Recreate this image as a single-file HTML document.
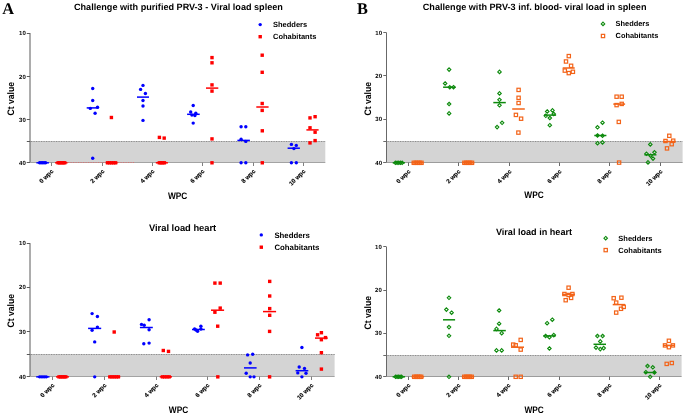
<!DOCTYPE html>
<html><head><meta charset="utf-8"><style>
html,body{margin:0;padding:0;background:#fff;width:685px;height:417px;overflow:hidden}
svg{display:block;will-change:transform} text{text-rendering:geometricPrecision}
</style></head><body>
<svg width="685" height="417" viewBox="0 0 685 417">
<rect x="30.0" y="141" width="295.3" height="21.5" fill="#d4d4d4"/>
<line x1="30.0" y1="141.5" x2="325.3" y2="141.5" stroke="#c4c4c4" stroke-width="1"/>
<line x1="31.0" y1="141.5" x2="325.3" y2="141.5" stroke="#8e8e8e" stroke-width="1" stroke-dasharray="1.2 1.3"/>
<line x1="26.8" y1="141.5" x2="30.0" y2="141.5" stroke="#5a5a5a" stroke-width="1"/>
<line x1="30.0" y1="33" x2="30.0" y2="162.5" stroke="#5a5a5a" stroke-width="1"/>
<line x1="26.8" y1="162.5" x2="325.3" y2="162.5" stroke="#a3a3a3" stroke-width="1"/>
<line x1="68" y1="162.5" x2="105.5" y2="162.5" stroke="#f06060" stroke-width="1" stroke-dasharray="1.2 1.3" opacity="0.7"/>
<line x1="118" y1="162.5" x2="134" y2="162.5" stroke="#f06060" stroke-width="1" stroke-dasharray="1.2 1.3" opacity="0.7"/>
<line x1="26.8" y1="33.5" x2="30.0" y2="33.5" stroke="#5a5a5a" stroke-width="1"/>
<text x="25.8" y="35.1" font-family='"Liberation Sans", sans-serif' font-size="6" font-weight="bold" text-anchor="end" fill="#000" transform="rotate(0.01 25.8 35.1)">10</text>
<line x1="26.8" y1="76.5" x2="30.0" y2="76.5" stroke="#5a5a5a" stroke-width="1"/>
<text x="25.8" y="78.6" font-family='"Liberation Sans", sans-serif' font-size="6" font-weight="bold" text-anchor="end" fill="#000" transform="rotate(0.01 25.8 78.6)">20</text>
<line x1="26.8" y1="119.5" x2="30.0" y2="119.5" stroke="#5a5a5a" stroke-width="1"/>
<text x="25.8" y="121.6" font-family='"Liberation Sans", sans-serif' font-size="6" font-weight="bold" text-anchor="end" fill="#000" transform="rotate(0.01 25.8 121.6)">30</text>
<line x1="26.8" y1="162.5" x2="30.0" y2="162.5" stroke="#5a5a5a" stroke-width="1"/>
<text x="25.8" y="164.6" font-family='"Liberation Sans", sans-serif' font-size="6" font-weight="bold" text-anchor="end" fill="#000" transform="rotate(0.01 25.8 164.6)">40</text>
<line x1="51.5" y1="162.5" x2="51.5" y2="166.0" stroke="#808080" stroke-width="1"/>
<text x="53.8" y="171.6" font-family='"Liberation Sans", sans-serif' font-size="6.1" font-weight="bold" text-anchor="end" fill="#000" stroke="#000" stroke-width="0.15" transform="rotate(-45 53.8 171.6)">0 wpc</text>
<line x1="102.5" y1="162.5" x2="102.5" y2="166.0" stroke="#808080" stroke-width="1"/>
<text x="104.8" y="171.6" font-family='"Liberation Sans", sans-serif' font-size="6.1" font-weight="bold" text-anchor="end" fill="#000" stroke="#000" stroke-width="0.15" transform="rotate(-45 104.8 171.6)">2 wpc</text>
<line x1="152.5" y1="162.5" x2="152.5" y2="166.0" stroke="#808080" stroke-width="1"/>
<text x="154.8" y="171.6" font-family='"Liberation Sans", sans-serif' font-size="6.1" font-weight="bold" text-anchor="end" fill="#000" stroke="#000" stroke-width="0.15" transform="rotate(-45 154.8 171.6)">4 wpc</text>
<line x1="202.5" y1="162.5" x2="202.5" y2="166.0" stroke="#808080" stroke-width="1"/>
<text x="204.8" y="171.6" font-family='"Liberation Sans", sans-serif' font-size="6.1" font-weight="bold" text-anchor="end" fill="#000" stroke="#000" stroke-width="0.15" transform="rotate(-45 204.8 171.6)">6 wpc</text>
<line x1="253.5" y1="162.5" x2="253.5" y2="166.0" stroke="#808080" stroke-width="1"/>
<text x="255.8" y="171.6" font-family='"Liberation Sans", sans-serif' font-size="6.1" font-weight="bold" text-anchor="end" fill="#000" stroke="#000" stroke-width="0.15" transform="rotate(-45 255.8 171.6)">8 wpc</text>
<line x1="303.5" y1="162.5" x2="303.5" y2="166.0" stroke="#808080" stroke-width="1"/>
<text x="305.8" y="171.6" font-family='"Liberation Sans", sans-serif' font-size="6.1" font-weight="bold" text-anchor="end" fill="#000" stroke="#000" stroke-width="0.15" transform="rotate(-45 305.8 171.6)">10 wpc</text>
<text x="0" y="0" font-family='"Liberation Sans", sans-serif' font-size="8.6" font-weight="bold" text-anchor="middle" fill="#000" transform="translate(14.399999999999999 98.8) rotate(-90) scale(1 1.1)">Ct value</text>
<text x="0" y="0" font-family='"Liberation Sans", sans-serif' font-size="8.4" font-weight="bold" text-anchor="start" fill="#000" transform="translate(168.0 198.8) scale(0.99 1.12)">WPC</text>
<text x="74" y="10.2" font-family='"Liberation Sans", sans-serif' font-size="9.1" font-weight="bold" text-anchor="start" fill="#000" >Challenge with purified PRV-3 - Viral load spleen</text>
<circle cx="260.20" cy="24.60" r="1.7" fill="#0000ff"/>
<rect x="258.50" y="35.00" width="3.4" height="3.4" fill="#ff0000"/>
<text x="273" y="27.2" font-family='"Liberation Sans", sans-serif' font-size="7.5" font-weight="bold" text-anchor="start" fill="#000" >Shedders</text>
<text x="273" y="39.3" font-family='"Liberation Sans", sans-serif' font-size="7.5" font-weight="bold" text-anchor="start" fill="#000" >Cohabitants</text>
<line x1="36.4" y1="162.8" x2="48.9" y2="162.8" stroke="#0000ff" stroke-width="1.5"/>
<circle cx="39.60" cy="162.80" r="1.7" fill="#0000ff"/>
<circle cx="41.10" cy="162.80" r="1.7" fill="#0000ff"/>
<circle cx="42.60" cy="162.80" r="1.7" fill="#0000ff"/>
<circle cx="44.10" cy="162.80" r="1.7" fill="#0000ff"/>
<circle cx="45.60" cy="162.80" r="1.7" fill="#0000ff"/>
<line x1="55.1" y1="162.8" x2="67.5" y2="162.8" stroke="#ff0000" stroke-width="1.5"/>
<rect x="56.40" y="161.10" width="3.4" height="3.4" fill="#ff0000"/>
<rect x="58.05" y="161.10" width="3.4" height="3.4" fill="#ff0000"/>
<rect x="59.70" y="161.10" width="3.4" height="3.4" fill="#ff0000"/>
<rect x="61.35" y="161.10" width="3.4" height="3.4" fill="#ff0000"/>
<rect x="63.00" y="161.10" width="3.4" height="3.4" fill="#ff0000"/>
<line x1="86.7" y1="107.9" x2="98.7" y2="107.9" stroke="#0000ff" stroke-width="1.5"/>
<circle cx="92.70" cy="88.50" r="1.7" fill="#0000ff"/>
<circle cx="92.70" cy="100.50" r="1.7" fill="#0000ff"/>
<circle cx="90.30" cy="108.40" r="1.7" fill="#0000ff"/>
<circle cx="97.50" cy="107.20" r="1.7" fill="#0000ff"/>
<circle cx="95.10" cy="113.20" r="1.7" fill="#0000ff"/>
<circle cx="92.70" cy="158.30" r="1.7" fill="#0000ff"/>
<line x1="105.7" y1="162.8" x2="117.5" y2="162.8" stroke="#ff0000" stroke-width="1.5"/>
<rect x="109.70" y="115.80" width="3.4" height="3.4" fill="#ff0000"/>
<rect x="105.80" y="161.10" width="3.4" height="3.4" fill="#ff0000"/>
<rect x="107.83" y="161.10" width="3.4" height="3.4" fill="#ff0000"/>
<rect x="109.85" y="161.10" width="3.4" height="3.4" fill="#ff0000"/>
<rect x="111.87" y="161.10" width="3.4" height="3.4" fill="#ff0000"/>
<rect x="113.90" y="161.10" width="3.4" height="3.4" fill="#ff0000"/>
<line x1="137" y1="97.1" x2="149" y2="97.1" stroke="#0000ff" stroke-width="1.5"/>
<circle cx="143.00" cy="85.40" r="1.7" fill="#0000ff"/>
<circle cx="140.60" cy="89.40" r="1.7" fill="#0000ff"/>
<circle cx="145.40" cy="93.50" r="1.7" fill="#0000ff"/>
<circle cx="143.00" cy="100.50" r="1.7" fill="#0000ff"/>
<circle cx="143.00" cy="106.00" r="1.7" fill="#0000ff"/>
<circle cx="143.00" cy="120.40" r="1.7" fill="#0000ff"/>
<line x1="155.8" y1="162.8" x2="167.9" y2="162.8" stroke="#ff0000" stroke-width="1.5"/>
<rect x="157.70" y="135.70" width="3.4" height="3.4" fill="#ff0000"/>
<rect x="162.50" y="136.40" width="3.4" height="3.4" fill="#ff0000"/>
<rect x="157.60" y="161.10" width="3.4" height="3.4" fill="#ff0000"/>
<rect x="159.30" y="161.10" width="3.4" height="3.4" fill="#ff0000"/>
<rect x="161.00" y="161.10" width="3.4" height="3.4" fill="#ff0000"/>
<rect x="162.70" y="161.10" width="3.4" height="3.4" fill="#ff0000"/>
<line x1="187.1" y1="114.3" x2="199.7" y2="114.3" stroke="#0000ff" stroke-width="1.5"/>
<circle cx="193.20" cy="105.50" r="1.7" fill="#0000ff"/>
<circle cx="190.70" cy="112.00" r="1.7" fill="#0000ff"/>
<circle cx="191.90" cy="115.10" r="1.7" fill="#0000ff"/>
<circle cx="194.90" cy="115.50" r="1.7" fill="#0000ff"/>
<circle cx="195.80" cy="113.30" r="1.7" fill="#0000ff"/>
<circle cx="193.20" cy="123.10" r="1.7" fill="#0000ff"/>
<line x1="206" y1="88.1" x2="218.3" y2="88.1" stroke="#ff0000" stroke-width="1.5"/>
<rect x="210.30" y="55.90" width="3.4" height="3.4" fill="#ff0000"/>
<rect x="210.30" y="61.10" width="3.4" height="3.4" fill="#ff0000"/>
<rect x="210.30" y="83.20" width="3.4" height="3.4" fill="#ff0000"/>
<rect x="210.30" y="89.40" width="3.4" height="3.4" fill="#ff0000"/>
<rect x="210.30" y="137.20" width="3.4" height="3.4" fill="#ff0000"/>
<rect x="210.30" y="161.10" width="3.4" height="3.4" fill="#ff0000"/>
<line x1="237.4" y1="140.4" x2="249.9" y2="140.4" stroke="#0000ff" stroke-width="1.5"/>
<circle cx="241.10" cy="126.70" r="1.7" fill="#0000ff"/>
<circle cx="245.80" cy="126.70" r="1.7" fill="#0000ff"/>
<circle cx="241.10" cy="139.20" r="1.7" fill="#0000ff"/>
<circle cx="245.80" cy="141.40" r="1.7" fill="#0000ff"/>
<circle cx="241.10" cy="162.80" r="1.7" fill="#0000ff"/>
<circle cx="245.80" cy="162.80" r="1.7" fill="#0000ff"/>
<line x1="256.3" y1="107" x2="268.6" y2="107" stroke="#ff0000" stroke-width="1.5"/>
<rect x="260.50" y="53.50" width="3.4" height="3.4" fill="#ff0000"/>
<rect x="260.50" y="70.60" width="3.4" height="3.4" fill="#ff0000"/>
<rect x="260.50" y="101.80" width="3.4" height="3.4" fill="#ff0000"/>
<rect x="260.50" y="108.70" width="3.4" height="3.4" fill="#ff0000"/>
<rect x="260.60" y="129.10" width="3.4" height="3.4" fill="#ff0000"/>
<rect x="260.60" y="161.10" width="3.4" height="3.4" fill="#ff0000"/>
<line x1="287.6" y1="148.2" x2="299.9" y2="148.2" stroke="#0000ff" stroke-width="1.5"/>
<circle cx="291.40" cy="144.40" r="1.7" fill="#0000ff"/>
<circle cx="296.30" cy="145.40" r="1.7" fill="#0000ff"/>
<circle cx="293.90" cy="148.60" r="1.7" fill="#0000ff"/>
<circle cx="291.40" cy="162.80" r="1.7" fill="#0000ff"/>
<circle cx="296.30" cy="162.80" r="1.7" fill="#0000ff"/>
<line x1="306.4" y1="129.9" x2="318.6" y2="129.9" stroke="#ff0000" stroke-width="1.5"/>
<rect x="308.30" y="116.20" width="3.4" height="3.4" fill="#ff0000"/>
<rect x="313.40" y="115.00" width="3.4" height="3.4" fill="#ff0000"/>
<rect x="308.30" y="126.10" width="3.4" height="3.4" fill="#ff0000"/>
<rect x="313.40" y="130.50" width="3.4" height="3.4" fill="#ff0000"/>
<rect x="313.40" y="138.90" width="3.4" height="3.4" fill="#ff0000"/>
<rect x="308.30" y="141.20" width="3.4" height="3.4" fill="#ff0000"/>
<rect x="386.5" y="141" width="296.1" height="21.5" fill="#d4d4d4"/>
<line x1="386.5" y1="141.5" x2="682.6" y2="141.5" stroke="#c4c4c4" stroke-width="1"/>
<line x1="387.5" y1="141.5" x2="682.6" y2="141.5" stroke="#8e8e8e" stroke-width="1" stroke-dasharray="1.2 1.3"/>
<line x1="383.3" y1="141.5" x2="386.5" y2="141.5" stroke="#686868" stroke-width="1"/>
<line x1="386.5" y1="32.6" x2="386.5" y2="162.5" stroke="#686868" stroke-width="1"/>
<line x1="383.3" y1="162.5" x2="682.6" y2="162.5" stroke="#9c9c9c" stroke-width="1"/>
<line x1="383.3" y1="32.5" x2="386.5" y2="32.5" stroke="#686868" stroke-width="1"/>
<text x="382.0" y="34.7" font-family='"Liberation Sans", sans-serif' font-size="6" font-weight="bold" text-anchor="end" fill="#000" transform="rotate(0.01 382.0 34.7)">10</text>
<line x1="383.3" y1="75.5" x2="386.5" y2="75.5" stroke="#686868" stroke-width="1"/>
<text x="382.0" y="78.0" font-family='"Liberation Sans", sans-serif' font-size="6" font-weight="bold" text-anchor="end" fill="#000" transform="rotate(0.01 382.0 78.0)">20</text>
<line x1="383.3" y1="119.5" x2="386.5" y2="119.5" stroke="#686868" stroke-width="1"/>
<text x="382.0" y="121.3" font-family='"Liberation Sans", sans-serif' font-size="6" font-weight="bold" text-anchor="end" fill="#000" transform="rotate(0.01 382.0 121.3)">30</text>
<line x1="383.3" y1="162.5" x2="386.5" y2="162.5" stroke="#686868" stroke-width="1"/>
<text x="382.0" y="164.9" font-family='"Liberation Sans", sans-serif' font-size="6" font-weight="bold" text-anchor="end" fill="#000" transform="rotate(0.01 382.0 164.9)">40</text>
<line x1="408.5" y1="162.5" x2="408.5" y2="166.0" stroke="#6a6a6a" stroke-width="1"/>
<text x="410.8" y="171.9" font-family='"Liberation Sans", sans-serif' font-size="6.1" font-weight="bold" text-anchor="end" fill="#000" stroke="#000" stroke-width="0.15" transform="rotate(-45 410.8 171.9)">0 wpc</text>
<line x1="458.5" y1="162.5" x2="458.5" y2="166.0" stroke="#6a6a6a" stroke-width="1"/>
<text x="460.8" y="171.9" font-family='"Liberation Sans", sans-serif' font-size="6.1" font-weight="bold" text-anchor="end" fill="#000" stroke="#000" stroke-width="0.15" transform="rotate(-45 460.8 171.9)">2 wpc</text>
<line x1="509.5" y1="162.5" x2="509.5" y2="166.0" stroke="#6a6a6a" stroke-width="1"/>
<text x="511.8" y="171.9" font-family='"Liberation Sans", sans-serif' font-size="6.1" font-weight="bold" text-anchor="end" fill="#000" stroke="#000" stroke-width="0.15" transform="rotate(-45 511.8 171.9)">4 wpc</text>
<line x1="559.5" y1="162.5" x2="559.5" y2="166.0" stroke="#6a6a6a" stroke-width="1"/>
<text x="561.8" y="171.9" font-family='"Liberation Sans", sans-serif' font-size="6.1" font-weight="bold" text-anchor="end" fill="#000" stroke="#000" stroke-width="0.15" transform="rotate(-45 561.8 171.9)">6 wpc</text>
<line x1="609.5" y1="162.5" x2="609.5" y2="166.0" stroke="#6a6a6a" stroke-width="1"/>
<text x="611.8" y="171.9" font-family='"Liberation Sans", sans-serif' font-size="6.1" font-weight="bold" text-anchor="end" fill="#000" stroke="#000" stroke-width="0.15" transform="rotate(-45 611.8 171.9)">8 wpc</text>
<line x1="660.5" y1="162.5" x2="660.5" y2="166.0" stroke="#6a6a6a" stroke-width="1"/>
<text x="662.8" y="171.9" font-family='"Liberation Sans", sans-serif' font-size="6.1" font-weight="bold" text-anchor="end" fill="#000" stroke="#000" stroke-width="0.15" transform="rotate(-45 662.8 171.9)">10 wpc</text>
<text x="0" y="0" font-family='"Liberation Sans", sans-serif' font-size="8.6" font-weight="bold" text-anchor="middle" fill="#000" transform="translate(370.9 98.8) rotate(-90) scale(1 1.1)">Ct value</text>
<text x="0" y="0" font-family='"Liberation Sans", sans-serif' font-size="8.4" font-weight="bold" text-anchor="start" fill="#000" transform="translate(524.35 198.4) scale(0.99 1.12)">WPC</text>
<text x="422.8" y="9.6" font-family='"Liberation Sans", sans-serif' font-size="9.1" font-weight="bold" text-anchor="start" fill="#000" >Challenge with PRV-3 inf. blood- viral load in spleen</text>
<path d="M603.00 22.15L604.75 23.90L603.00 25.65L601.25 23.90Z" fill="none" stroke="#0d8a0d" stroke-width="1.1"/>
<rect x="601.35" y="34.35" width="3.3" height="3.3" fill="none" stroke="#f36318" stroke-width="1.2"/>
<text x="615.6" y="26.1" font-family='"Liberation Sans", sans-serif' font-size="7.4" font-weight="bold" text-anchor="start" fill="#000" >Shedders</text>
<text x="615.6" y="37.8" font-family='"Liberation Sans", sans-serif' font-size="7.4" font-weight="bold" text-anchor="start" fill="#000" >Cohabitants</text>
<line x1="392.7" y1="162.8" x2="404.9" y2="162.8" stroke="#0d8a0d" stroke-width="1.5"/>
<path d="M395.40 161.05L397.15 162.80L395.40 164.55L393.65 162.80Z" fill="none" stroke="#0d8a0d" stroke-width="1.1"/>
<path d="M397.10 161.05L398.85 162.80L397.10 164.55L395.35 162.80Z" fill="none" stroke="#0d8a0d" stroke-width="1.1"/>
<path d="M398.80 161.05L400.55 162.80L398.80 164.55L397.05 162.80Z" fill="none" stroke="#0d8a0d" stroke-width="1.1"/>
<path d="M400.50 161.05L402.25 162.80L400.50 164.55L398.75 162.80Z" fill="none" stroke="#0d8a0d" stroke-width="1.1"/>
<path d="M402.20 161.05L403.95 162.80L402.20 164.55L400.45 162.80Z" fill="none" stroke="#0d8a0d" stroke-width="1.1"/>
<line x1="411.7" y1="162.8" x2="423.6" y2="162.8" stroke="#f36318" stroke-width="1.5"/>
<rect x="412.15" y="161.15" width="3.3" height="3.3" fill="none" stroke="#f36318" stroke-width="1.2"/>
<rect x="414.08" y="161.15" width="3.3" height="3.3" fill="none" stroke="#f36318" stroke-width="1.2"/>
<rect x="416.00" y="161.15" width="3.3" height="3.3" fill="none" stroke="#f36318" stroke-width="1.2"/>
<rect x="417.93" y="161.15" width="3.3" height="3.3" fill="none" stroke="#f36318" stroke-width="1.2"/>
<rect x="419.85" y="161.15" width="3.3" height="3.3" fill="none" stroke="#f36318" stroke-width="1.2"/>
<line x1="443.1" y1="87.2" x2="455.5" y2="87.2" stroke="#0d8a0d" stroke-width="1.5"/>
<path d="M449.10 67.85L450.85 69.60L449.10 71.35L447.35 69.60Z" fill="none" stroke="#0d8a0d" stroke-width="1.1"/>
<path d="M445.10 81.75L446.85 83.50L445.10 85.25L443.35 83.50Z" fill="none" stroke="#0d8a0d" stroke-width="1.1"/>
<path d="M449.80 85.55L451.55 87.30L449.80 89.05L448.05 87.30Z" fill="none" stroke="#0d8a0d" stroke-width="1.1"/>
<path d="M453.50 85.45L455.25 87.20L453.50 88.95L451.75 87.20Z" fill="none" stroke="#0d8a0d" stroke-width="1.1"/>
<path d="M449.10 102.25L450.85 104.00L449.10 105.75L447.35 104.00Z" fill="none" stroke="#0d8a0d" stroke-width="1.1"/>
<path d="M449.10 111.65L450.85 113.40L449.10 115.15L447.35 113.40Z" fill="none" stroke="#0d8a0d" stroke-width="1.1"/>
<line x1="462.1" y1="162.8" x2="474.3" y2="162.8" stroke="#f36318" stroke-width="1.5"/>
<rect x="462.75" y="161.15" width="3.3" height="3.3" fill="none" stroke="#f36318" stroke-width="1.2"/>
<rect x="464.65" y="161.15" width="3.3" height="3.3" fill="none" stroke="#f36318" stroke-width="1.2"/>
<rect x="466.55" y="161.15" width="3.3" height="3.3" fill="none" stroke="#f36318" stroke-width="1.2"/>
<rect x="468.45" y="161.15" width="3.3" height="3.3" fill="none" stroke="#f36318" stroke-width="1.2"/>
<rect x="470.35" y="161.15" width="3.3" height="3.3" fill="none" stroke="#f36318" stroke-width="1.2"/>
<line x1="493.3" y1="102.6" x2="505.8" y2="102.6" stroke="#0d8a0d" stroke-width="1.5"/>
<path d="M499.50 70.15L501.25 71.90L499.50 73.65L497.75 71.90Z" fill="none" stroke="#0d8a0d" stroke-width="1.1"/>
<path d="M499.50 91.65L501.25 93.40L499.50 95.15L497.75 93.40Z" fill="none" stroke="#0d8a0d" stroke-width="1.1"/>
<path d="M499.50 98.05L501.25 99.80L499.50 101.55L497.75 99.80Z" fill="none" stroke="#0d8a0d" stroke-width="1.1"/>
<path d="M499.50 103.55L501.25 105.30L499.50 107.05L497.75 105.30Z" fill="none" stroke="#0d8a0d" stroke-width="1.1"/>
<path d="M502.10 121.05L503.85 122.80L502.10 124.55L500.35 122.80Z" fill="none" stroke="#0d8a0d" stroke-width="1.1"/>
<path d="M497.10 125.35L498.85 127.10L497.10 128.85L495.35 127.10Z" fill="none" stroke="#0d8a0d" stroke-width="1.1"/>
<line x1="512.2" y1="109" x2="524.8" y2="109" stroke="#f36318" stroke-width="1.5"/>
<rect x="516.95" y="88.25" width="3.3" height="3.3" fill="none" stroke="#f36318" stroke-width="1.2"/>
<rect x="516.95" y="96.15" width="3.3" height="3.3" fill="none" stroke="#f36318" stroke-width="1.2"/>
<rect x="516.95" y="101.35" width="3.3" height="3.3" fill="none" stroke="#f36318" stroke-width="1.2"/>
<rect x="514.25" y="113.25" width="3.3" height="3.3" fill="none" stroke="#f36318" stroke-width="1.2"/>
<rect x="519.45" y="117.05" width="3.3" height="3.3" fill="none" stroke="#f36318" stroke-width="1.2"/>
<rect x="516.75" y="130.95" width="3.3" height="3.3" fill="none" stroke="#f36318" stroke-width="1.2"/>
<line x1="544" y1="115.1" x2="556.1" y2="115.1" stroke="#0d8a0d" stroke-width="1.5"/>
<path d="M547.20 109.75L548.95 111.50L547.20 113.25L545.45 111.50Z" fill="none" stroke="#0d8a0d" stroke-width="1.1"/>
<path d="M552.50 108.65L554.25 110.40L552.50 112.15L550.75 110.40Z" fill="none" stroke="#0d8a0d" stroke-width="1.1"/>
<path d="M545.80 114.05L547.55 115.80L545.80 117.55L544.05 115.80Z" fill="none" stroke="#0d8a0d" stroke-width="1.1"/>
<path d="M549.80 116.25L551.55 118.00L549.80 119.75L548.05 118.00Z" fill="none" stroke="#0d8a0d" stroke-width="1.1"/>
<path d="M553.70 112.25L555.45 114.00L553.70 115.75L551.95 114.00Z" fill="none" stroke="#0d8a0d" stroke-width="1.1"/>
<path d="M549.80 123.45L551.55 125.20L549.80 126.95L548.05 125.20Z" fill="none" stroke="#0d8a0d" stroke-width="1.1"/>
<line x1="562.7" y1="68" x2="574.7" y2="68" stroke="#f36318" stroke-width="1.5"/>
<rect x="567.15" y="54.45" width="3.3" height="3.3" fill="none" stroke="#f36318" stroke-width="1.2"/>
<rect x="564.35" y="59.85" width="3.3" height="3.3" fill="none" stroke="#f36318" stroke-width="1.2"/>
<rect x="569.45" y="64.15" width="3.3" height="3.3" fill="none" stroke="#f36318" stroke-width="1.2"/>
<rect x="563.15" y="68.95" width="3.3" height="3.3" fill="none" stroke="#f36318" stroke-width="1.2"/>
<rect x="571.25" y="70.15" width="3.3" height="3.3" fill="none" stroke="#f36318" stroke-width="1.2"/>
<rect x="567.15" y="71.45" width="3.3" height="3.3" fill="none" stroke="#f36318" stroke-width="1.2"/>
<line x1="594.3" y1="135.5" x2="606.4" y2="135.5" stroke="#0d8a0d" stroke-width="1.5"/>
<path d="M602.50 120.95L604.25 122.70L602.50 124.45L600.75 122.70Z" fill="none" stroke="#0d8a0d" stroke-width="1.1"/>
<path d="M597.50 125.55L599.25 127.30L597.50 129.05L595.75 127.30Z" fill="none" stroke="#0d8a0d" stroke-width="1.1"/>
<path d="M597.50 133.75L599.25 135.50L597.50 137.25L595.75 135.50Z" fill="none" stroke="#0d8a0d" stroke-width="1.1"/>
<path d="M602.50 133.95L604.25 135.70L602.50 137.45L600.75 135.70Z" fill="none" stroke="#0d8a0d" stroke-width="1.1"/>
<path d="M597.50 141.45L599.25 143.20L597.50 144.95L595.75 143.20Z" fill="none" stroke="#0d8a0d" stroke-width="1.1"/>
<path d="M602.50 140.65L604.25 142.40L602.50 144.15L600.75 142.40Z" fill="none" stroke="#0d8a0d" stroke-width="1.1"/>
<line x1="613.3" y1="104.1" x2="625.1" y2="104.1" stroke="#f36318" stroke-width="1.5"/>
<rect x="614.95" y="95.05" width="3.3" height="3.3" fill="none" stroke="#f36318" stroke-width="1.2"/>
<rect x="620.05" y="95.05" width="3.3" height="3.3" fill="none" stroke="#f36318" stroke-width="1.2"/>
<rect x="614.95" y="103.45" width="3.3" height="3.3" fill="none" stroke="#f36318" stroke-width="1.2"/>
<rect x="620.05" y="102.25" width="3.3" height="3.3" fill="none" stroke="#f36318" stroke-width="1.2"/>
<rect x="617.15" y="120.25" width="3.3" height="3.3" fill="none" stroke="#f36318" stroke-width="1.2"/>
<rect x="617.45" y="160.95" width="3.3" height="3.3" fill="none" stroke="#f36318" stroke-width="1.2"/>
<line x1="644.4" y1="154.8" x2="656.4" y2="154.8" stroke="#0d8a0d" stroke-width="1.5"/>
<path d="M650.30 142.65L652.05 144.40L650.30 146.15L648.55 144.40Z" fill="none" stroke="#0d8a0d" stroke-width="1.1"/>
<path d="M646.50 152.05L648.25 153.80L646.50 155.55L644.75 153.80Z" fill="none" stroke="#0d8a0d" stroke-width="1.1"/>
<path d="M654.50 150.55L656.25 152.30L654.50 154.05L652.75 152.30Z" fill="none" stroke="#0d8a0d" stroke-width="1.1"/>
<path d="M650.60 153.95L652.35 155.70L650.60 157.45L648.85 155.70Z" fill="none" stroke="#0d8a0d" stroke-width="1.1"/>
<path d="M653.00 156.85L654.75 158.60L653.00 160.35L651.25 158.60Z" fill="none" stroke="#0d8a0d" stroke-width="1.1"/>
<path d="M648.00 160.65L649.75 162.40L648.00 164.15L646.25 162.40Z" fill="none" stroke="#0d8a0d" stroke-width="1.1"/>
<line x1="663.1" y1="141.5" x2="675.6" y2="141.5" stroke="#f36318" stroke-width="1.5"/>
<rect x="667.65" y="134.15" width="3.3" height="3.3" fill="none" stroke="#f36318" stroke-width="1.2"/>
<rect x="663.85" y="139.35" width="3.3" height="3.3" fill="none" stroke="#f36318" stroke-width="1.2"/>
<rect x="671.55" y="139.05" width="3.3" height="3.3" fill="none" stroke="#f36318" stroke-width="1.2"/>
<rect x="670.05" y="142.55" width="3.3" height="3.3" fill="none" stroke="#f36318" stroke-width="1.2"/>
<rect x="665.35" y="146.75" width="3.3" height="3.3" fill="none" stroke="#f36318" stroke-width="1.2"/>
<rect x="30.0" y="354" width="304.6" height="22.5" fill="#d4d4d4"/>
<line x1="30.0" y1="354.5" x2="334.6" y2="354.5" stroke="#c4c4c4" stroke-width="1"/>
<line x1="31.0" y1="354.5" x2="334.6" y2="354.5" stroke="#8e8e8e" stroke-width="1" stroke-dasharray="1.2 1.3"/>
<line x1="26.8" y1="354.5" x2="30.0" y2="354.5" stroke="#5a5a5a" stroke-width="1"/>
<line x1="30.0" y1="243.1" x2="30.0" y2="376.5" stroke="#5a5a5a" stroke-width="1"/>
<line x1="26.8" y1="376.5" x2="334.6" y2="376.5" stroke="#a3a3a3" stroke-width="1"/>
<line x1="26.8" y1="243.5" x2="30.0" y2="243.5" stroke="#5a5a5a" stroke-width="1"/>
<text x="25.8" y="245.2" font-family='"Liberation Sans", sans-serif' font-size="6" font-weight="bold" text-anchor="end" fill="#000" transform="rotate(0.01 25.8 245.2)">10</text>
<line x1="26.8" y1="287.5" x2="30.0" y2="287.5" stroke="#5a5a5a" stroke-width="1"/>
<text x="25.8" y="289.5" font-family='"Liberation Sans", sans-serif' font-size="6" font-weight="bold" text-anchor="end" fill="#000" transform="rotate(0.01 25.8 289.5)">20</text>
<line x1="26.8" y1="331.5" x2="30.0" y2="331.5" stroke="#5a5a5a" stroke-width="1"/>
<text x="25.8" y="334.0" font-family='"Liberation Sans", sans-serif' font-size="6" font-weight="bold" text-anchor="end" fill="#000" transform="rotate(0.01 25.8 334.0)">30</text>
<line x1="26.8" y1="376.5" x2="30.0" y2="376.5" stroke="#5a5a5a" stroke-width="1"/>
<text x="25.8" y="378.70000000000005" font-family='"Liberation Sans", sans-serif' font-size="6" font-weight="bold" text-anchor="end" fill="#000" transform="rotate(0.01 25.8 378.70000000000005)">40</text>
<line x1="52.5" y1="376.5" x2="52.5" y2="380.0" stroke="#808080" stroke-width="1"/>
<text x="54.8" y="385.70000000000005" font-family='"Liberation Sans", sans-serif' font-size="6.1" font-weight="bold" text-anchor="end" fill="#000" stroke="#000" stroke-width="0.15" transform="rotate(-45 54.8 385.70000000000005)">0 wpc</text>
<line x1="104.5" y1="376.5" x2="104.5" y2="380.0" stroke="#808080" stroke-width="1"/>
<text x="106.8" y="385.70000000000005" font-family='"Liberation Sans", sans-serif' font-size="6.1" font-weight="bold" text-anchor="end" fill="#000" stroke="#000" stroke-width="0.15" transform="rotate(-45 106.8 385.70000000000005)">2 wpc</text>
<line x1="156.5" y1="376.5" x2="156.5" y2="380.0" stroke="#808080" stroke-width="1"/>
<text x="158.8" y="385.70000000000005" font-family='"Liberation Sans", sans-serif' font-size="6.1" font-weight="bold" text-anchor="end" fill="#000" stroke="#000" stroke-width="0.15" transform="rotate(-45 158.8 385.70000000000005)">4 wpc</text>
<line x1="207.5" y1="376.5" x2="207.5" y2="380.0" stroke="#808080" stroke-width="1"/>
<text x="209.8" y="385.70000000000005" font-family='"Liberation Sans", sans-serif' font-size="6.1" font-weight="bold" text-anchor="end" fill="#000" stroke="#000" stroke-width="0.15" transform="rotate(-45 209.8 385.70000000000005)">6 wpc</text>
<line x1="259.5" y1="376.5" x2="259.5" y2="380.0" stroke="#808080" stroke-width="1"/>
<text x="261.8" y="385.70000000000005" font-family='"Liberation Sans", sans-serif' font-size="6.1" font-weight="bold" text-anchor="end" fill="#000" stroke="#000" stroke-width="0.15" transform="rotate(-45 261.8 385.70000000000005)">8 wpc</text>
<line x1="311.5" y1="376.5" x2="311.5" y2="380.0" stroke="#808080" stroke-width="1"/>
<text x="313.8" y="385.70000000000005" font-family='"Liberation Sans", sans-serif' font-size="6.1" font-weight="bold" text-anchor="end" fill="#000" stroke="#000" stroke-width="0.15" transform="rotate(-45 313.8 385.70000000000005)">10 wpc</text>
<text x="0" y="0" font-family='"Liberation Sans", sans-serif' font-size="8.6" font-weight="bold" text-anchor="middle" fill="#000" transform="translate(13.600000000000001 310.7) rotate(-90) scale(1 1.1)">Ct value</text>
<text x="0" y="0" font-family='"Liberation Sans", sans-serif' font-size="8.4" font-weight="bold" text-anchor="start" fill="#000" transform="translate(168.8 412.6) scale(0.99 1.12)">WPC</text>
<text x="148.9" y="231.1" font-family='"Liberation Sans", sans-serif' font-size="9.35" font-weight="bold" text-anchor="start" fill="#000" >Viral load heart</text>
<circle cx="261.30" cy="234.90" r="1.7" fill="#0000ff"/>
<rect x="259.60" y="245.50" width="3.4" height="3.4" fill="#ff0000"/>
<text x="274.4" y="237.7" font-family='"Liberation Sans", sans-serif' font-size="7.8" font-weight="bold" text-anchor="start" fill="#000" >Shedders</text>
<text x="274.4" y="250.2" font-family='"Liberation Sans", sans-serif' font-size="7.8" font-weight="bold" text-anchor="start" fill="#000" >Cohabitants</text>
<line x1="36.2" y1="376.85" x2="49.5" y2="376.85" stroke="#0000ff" stroke-width="1.5"/>
<circle cx="39.60" cy="376.85" r="1.7" fill="#0000ff"/>
<circle cx="41.27" cy="376.85" r="1.7" fill="#0000ff"/>
<circle cx="42.95" cy="376.85" r="1.7" fill="#0000ff"/>
<circle cx="44.62" cy="376.85" r="1.7" fill="#0000ff"/>
<circle cx="46.30" cy="376.85" r="1.7" fill="#0000ff"/>
<line x1="56" y1="376.85" x2="68.9" y2="376.85" stroke="#ff0000" stroke-width="1.5"/>
<rect x="57.30" y="375.15" width="3.4" height="3.4" fill="#ff0000"/>
<rect x="59.00" y="375.15" width="3.4" height="3.4" fill="#ff0000"/>
<rect x="60.70" y="375.15" width="3.4" height="3.4" fill="#ff0000"/>
<rect x="62.40" y="375.15" width="3.4" height="3.4" fill="#ff0000"/>
<rect x="64.10" y="375.15" width="3.4" height="3.4" fill="#ff0000"/>
<line x1="88.1" y1="328.4" x2="101.2" y2="328.4" stroke="#0000ff" stroke-width="1.5"/>
<circle cx="92.10" cy="313.60" r="1.7" fill="#0000ff"/>
<circle cx="97.40" cy="316.50" r="1.7" fill="#0000ff"/>
<circle cx="97.40" cy="327.10" r="1.7" fill="#0000ff"/>
<circle cx="92.10" cy="330.20" r="1.7" fill="#0000ff"/>
<circle cx="94.70" cy="341.90" r="1.7" fill="#0000ff"/>
<circle cx="94.70" cy="376.85" r="1.7" fill="#0000ff"/>
<line x1="108.1" y1="376.85" x2="120.2" y2="376.85" stroke="#ff0000" stroke-width="1.5"/>
<rect x="112.50" y="330.30" width="3.4" height="3.4" fill="#ff0000"/>
<rect x="108.20" y="375.15" width="3.4" height="3.4" fill="#ff0000"/>
<rect x="110.33" y="375.15" width="3.4" height="3.4" fill="#ff0000"/>
<rect x="112.45" y="375.15" width="3.4" height="3.4" fill="#ff0000"/>
<rect x="114.58" y="375.15" width="3.4" height="3.4" fill="#ff0000"/>
<rect x="116.70" y="375.15" width="3.4" height="3.4" fill="#ff0000"/>
<line x1="139.9" y1="327.5" x2="152.8" y2="327.5" stroke="#0000ff" stroke-width="1.5"/>
<circle cx="141.50" cy="324.40" r="1.7" fill="#0000ff"/>
<circle cx="144.20" cy="325.30" r="1.7" fill="#0000ff"/>
<circle cx="149.10" cy="319.70" r="1.7" fill="#0000ff"/>
<circle cx="149.10" cy="329.80" r="1.7" fill="#0000ff"/>
<circle cx="143.80" cy="343.70" r="1.7" fill="#0000ff"/>
<circle cx="149.10" cy="343.10" r="1.7" fill="#0000ff"/>
<line x1="159.7" y1="376.85" x2="172" y2="376.85" stroke="#ff0000" stroke-width="1.5"/>
<rect x="161.60" y="348.80" width="3.4" height="3.4" fill="#ff0000"/>
<rect x="166.80" y="349.70" width="3.4" height="3.4" fill="#ff0000"/>
<rect x="160.70" y="375.15" width="3.4" height="3.4" fill="#ff0000"/>
<rect x="162.97" y="375.15" width="3.4" height="3.4" fill="#ff0000"/>
<rect x="165.23" y="375.15" width="3.4" height="3.4" fill="#ff0000"/>
<rect x="167.50" y="375.15" width="3.4" height="3.4" fill="#ff0000"/>
<line x1="192" y1="329.5" x2="204.8" y2="329.5" stroke="#0000ff" stroke-width="1.5"/>
<circle cx="194.60" cy="329.00" r="1.7" fill="#0000ff"/>
<circle cx="197.60" cy="331.20" r="1.7" fill="#0000ff"/>
<circle cx="200.90" cy="326.20" r="1.7" fill="#0000ff"/>
<circle cx="200.90" cy="329.00" r="1.7" fill="#0000ff"/>
<circle cx="196.00" cy="330.00" r="1.7" fill="#0000ff"/>
<line x1="211" y1="310.2" x2="224.1" y2="310.2" stroke="#ff0000" stroke-width="1.5"/>
<rect x="213.20" y="281.40" width="3.4" height="3.4" fill="#ff0000"/>
<rect x="218.50" y="281.40" width="3.4" height="3.4" fill="#ff0000"/>
<rect x="218.50" y="306.40" width="3.4" height="3.4" fill="#ff0000"/>
<rect x="213.20" y="310.50" width="3.4" height="3.4" fill="#ff0000"/>
<rect x="216.00" y="324.50" width="3.4" height="3.4" fill="#ff0000"/>
<rect x="216.10" y="375.15" width="3.4" height="3.4" fill="#ff0000"/>
<line x1="244" y1="367.9" x2="256.6" y2="367.9" stroke="#0000ff" stroke-width="1.5"/>
<circle cx="247.60" cy="354.90" r="1.7" fill="#0000ff"/>
<circle cx="252.70" cy="354.30" r="1.7" fill="#0000ff"/>
<circle cx="250.20" cy="363.00" r="1.7" fill="#0000ff"/>
<circle cx="246.20" cy="373.20" r="1.7" fill="#0000ff"/>
<circle cx="250.20" cy="376.85" r="1.7" fill="#0000ff"/>
<circle cx="254.00" cy="376.85" r="1.7" fill="#0000ff"/>
<line x1="263" y1="311.6" x2="276.1" y2="311.6" stroke="#ff0000" stroke-width="1.5"/>
<rect x="268.00" y="279.70" width="3.4" height="3.4" fill="#ff0000"/>
<rect x="268.00" y="294.30" width="3.4" height="3.4" fill="#ff0000"/>
<rect x="268.00" y="306.90" width="3.4" height="3.4" fill="#ff0000"/>
<rect x="268.00" y="313.60" width="3.4" height="3.4" fill="#ff0000"/>
<rect x="267.90" y="329.70" width="3.4" height="3.4" fill="#ff0000"/>
<rect x="267.90" y="375.15" width="3.4" height="3.4" fill="#ff0000"/>
<line x1="295.6" y1="370.7" x2="308.3" y2="370.7" stroke="#0000ff" stroke-width="1.5"/>
<circle cx="301.90" cy="347.50" r="1.7" fill="#0000ff"/>
<circle cx="299.20" cy="367.00" r="1.7" fill="#0000ff"/>
<circle cx="304.50" cy="368.40" r="1.7" fill="#0000ff"/>
<circle cx="297.80" cy="372.90" r="1.7" fill="#0000ff"/>
<circle cx="306.00" cy="373.20" r="1.7" fill="#0000ff"/>
<circle cx="301.90" cy="376.85" r="1.7" fill="#0000ff"/>
<line x1="315" y1="338.1" x2="327.7" y2="338.1" stroke="#ff0000" stroke-width="1.5"/>
<rect x="315.90" y="333.10" width="3.4" height="3.4" fill="#ff0000"/>
<rect x="319.70" y="331.00" width="3.4" height="3.4" fill="#ff0000"/>
<rect x="319.70" y="338.00" width="3.4" height="3.4" fill="#ff0000"/>
<rect x="323.80" y="335.90" width="3.4" height="3.4" fill="#ff0000"/>
<rect x="319.70" y="351.00" width="3.4" height="3.4" fill="#ff0000"/>
<rect x="319.70" y="367.40" width="3.4" height="3.4" fill="#ff0000"/>
<rect x="386.5" y="355" width="295.1" height="21.5" fill="#d4d4d4"/>
<line x1="386.5" y1="355.5" x2="681.6" y2="355.5" stroke="#c4c4c4" stroke-width="1"/>
<line x1="387.5" y1="355.5" x2="681.6" y2="355.5" stroke="#8e8e8e" stroke-width="1" stroke-dasharray="1.2 1.3"/>
<line x1="383.3" y1="355.5" x2="386.5" y2="355.5" stroke="#686868" stroke-width="1"/>
<line x1="386.5" y1="246.9" x2="386.5" y2="376.5" stroke="#686868" stroke-width="1"/>
<line x1="383.3" y1="376.5" x2="681.6" y2="376.5" stroke="#9c9c9c" stroke-width="1"/>
<line x1="383.3" y1="246.5" x2="386.5" y2="246.5" stroke="#686868" stroke-width="1"/>
<text x="381.8" y="249.0" font-family='"Liberation Sans", sans-serif' font-size="6" font-weight="bold" text-anchor="end" fill="#000" transform="rotate(0.01 381.8 249.0)">10</text>
<line x1="383.3" y1="290.5" x2="386.5" y2="290.5" stroke="#686868" stroke-width="1"/>
<text x="381.8" y="292.1" font-family='"Liberation Sans", sans-serif' font-size="6" font-weight="bold" text-anchor="end" fill="#000" transform="rotate(0.01 381.8 292.1)">20</text>
<line x1="383.3" y1="333.5" x2="386.5" y2="333.5" stroke="#686868" stroke-width="1"/>
<text x="381.8" y="335.3" font-family='"Liberation Sans", sans-serif' font-size="6" font-weight="bold" text-anchor="end" fill="#000" transform="rotate(0.01 381.8 335.3)">30</text>
<line x1="383.3" y1="376.5" x2="386.5" y2="376.5" stroke="#686868" stroke-width="1"/>
<text x="381.8" y="378.6" font-family='"Liberation Sans", sans-serif' font-size="6" font-weight="bold" text-anchor="end" fill="#000" transform="rotate(0.01 381.8 378.6)">40</text>
<line x1="408.5" y1="376.5" x2="408.5" y2="380.0" stroke="#6a6a6a" stroke-width="1"/>
<text x="410.8" y="385.6" font-family='"Liberation Sans", sans-serif' font-size="6.1" font-weight="bold" text-anchor="end" fill="#000" stroke="#000" stroke-width="0.15" transform="rotate(-45 410.8 385.6)">0 wpc</text>
<line x1="458.5" y1="376.5" x2="458.5" y2="380.0" stroke="#6a6a6a" stroke-width="1"/>
<text x="460.8" y="385.6" font-family='"Liberation Sans", sans-serif' font-size="6.1" font-weight="bold" text-anchor="end" fill="#000" stroke="#000" stroke-width="0.15" transform="rotate(-45 460.8 385.6)">2 wpc</text>
<line x1="508.5" y1="376.5" x2="508.5" y2="380.0" stroke="#6a6a6a" stroke-width="1"/>
<text x="510.8" y="385.6" font-family='"Liberation Sans", sans-serif' font-size="6.1" font-weight="bold" text-anchor="end" fill="#000" stroke="#000" stroke-width="0.15" transform="rotate(-45 510.8 385.6)">4 wpc</text>
<line x1="559.5" y1="376.5" x2="559.5" y2="380.0" stroke="#6a6a6a" stroke-width="1"/>
<text x="561.8" y="385.6" font-family='"Liberation Sans", sans-serif' font-size="6.1" font-weight="bold" text-anchor="end" fill="#000" stroke="#000" stroke-width="0.15" transform="rotate(-45 561.8 385.6)">6 wpc</text>
<line x1="609.5" y1="376.5" x2="609.5" y2="380.0" stroke="#6a6a6a" stroke-width="1"/>
<text x="611.8" y="385.6" font-family='"Liberation Sans", sans-serif' font-size="6.1" font-weight="bold" text-anchor="end" fill="#000" stroke="#000" stroke-width="0.15" transform="rotate(-45 611.8 385.6)">8 wpc</text>
<line x1="659.5" y1="376.5" x2="659.5" y2="380.0" stroke="#6a6a6a" stroke-width="1"/>
<text x="661.8" y="385.6" font-family='"Liberation Sans", sans-serif' font-size="6.1" font-weight="bold" text-anchor="end" fill="#000" stroke="#000" stroke-width="0.15" transform="rotate(-45 661.8 385.6)">10 wpc</text>
<text x="0" y="0" font-family='"Liberation Sans", sans-serif' font-size="8.6" font-weight="bold" text-anchor="middle" fill="#000" transform="translate(371.0 312.8) rotate(-90) scale(1 1.1)">Ct value</text>
<text x="0" y="0" font-family='"Liberation Sans", sans-serif' font-size="8.4" font-weight="bold" text-anchor="start" fill="#000" transform="translate(524.4 413.0) scale(0.99 1.12)">WPC</text>
<text x="495.9" y="235" font-family='"Liberation Sans", sans-serif' font-size="9.1" font-weight="bold" text-anchor="start" fill="#000" >Viral load in heart</text>
<path d="M605.70 236.45L607.45 238.20L605.70 239.95L603.95 238.20Z" fill="none" stroke="#0d8a0d" stroke-width="1.1"/>
<rect x="604.05" y="248.45" width="3.3" height="3.3" fill="none" stroke="#f36318" stroke-width="1.2"/>
<text x="618.3" y="240.8" font-family='"Liberation Sans", sans-serif' font-size="7.5" font-weight="bold" text-anchor="start" fill="#000" >Shedders</text>
<text x="618.3" y="252.8" font-family='"Liberation Sans", sans-serif' font-size="7.5" font-weight="bold" text-anchor="start" fill="#000" >Cohabitants</text>
<line x1="392.6" y1="376.8" x2="405.1" y2="376.8" stroke="#0d8a0d" stroke-width="1.5"/>
<path d="M395.60 375.05L397.35 376.80L395.60 378.55L393.85 376.80Z" fill="none" stroke="#0d8a0d" stroke-width="1.1"/>
<path d="M397.10 375.05L398.85 376.80L397.10 378.55L395.35 376.80Z" fill="none" stroke="#0d8a0d" stroke-width="1.1"/>
<path d="M398.60 375.05L400.35 376.80L398.60 378.55L396.85 376.80Z" fill="none" stroke="#0d8a0d" stroke-width="1.1"/>
<path d="M400.10 375.05L401.85 376.80L400.10 378.55L398.35 376.80Z" fill="none" stroke="#0d8a0d" stroke-width="1.1"/>
<path d="M401.60 375.05L403.35 376.80L401.60 378.55L399.85 376.80Z" fill="none" stroke="#0d8a0d" stroke-width="1.1"/>
<line x1="411.6" y1="376.8" x2="424.1" y2="376.8" stroke="#f36318" stroke-width="1.5"/>
<rect x="412.55" y="375.15" width="3.3" height="3.3" fill="none" stroke="#f36318" stroke-width="1.2"/>
<rect x="414.30" y="375.15" width="3.3" height="3.3" fill="none" stroke="#f36318" stroke-width="1.2"/>
<rect x="416.05" y="375.15" width="3.3" height="3.3" fill="none" stroke="#f36318" stroke-width="1.2"/>
<rect x="417.80" y="375.15" width="3.3" height="3.3" fill="none" stroke="#f36318" stroke-width="1.2"/>
<rect x="419.55" y="375.15" width="3.3" height="3.3" fill="none" stroke="#f36318" stroke-width="1.2"/>
<line x1="443" y1="319.8" x2="455.1" y2="319.8" stroke="#0d8a0d" stroke-width="1.5"/>
<path d="M449.00 296.05L450.75 297.80L449.00 299.55L447.25 297.80Z" fill="none" stroke="#0d8a0d" stroke-width="1.1"/>
<path d="M446.40 307.85L448.15 309.60L446.40 311.35L444.65 309.60Z" fill="none" stroke="#0d8a0d" stroke-width="1.1"/>
<path d="M451.60 310.95L453.35 312.70L451.60 314.45L449.85 312.70Z" fill="none" stroke="#0d8a0d" stroke-width="1.1"/>
<path d="M449.00 325.35L450.75 327.10L449.00 328.85L447.25 327.10Z" fill="none" stroke="#0d8a0d" stroke-width="1.1"/>
<path d="M449.00 334.05L450.75 335.80L449.00 337.55L447.25 335.80Z" fill="none" stroke="#0d8a0d" stroke-width="1.1"/>
<path d="M449.00 375.05L450.75 376.80L449.00 378.55L447.25 376.80Z" fill="none" stroke="#0d8a0d" stroke-width="1.1"/>
<line x1="461.8" y1="376.8" x2="474.2" y2="376.8" stroke="#f36318" stroke-width="1.5"/>
<rect x="462.65" y="375.15" width="3.3" height="3.3" fill="none" stroke="#f36318" stroke-width="1.2"/>
<rect x="464.50" y="375.15" width="3.3" height="3.3" fill="none" stroke="#f36318" stroke-width="1.2"/>
<rect x="466.35" y="375.15" width="3.3" height="3.3" fill="none" stroke="#f36318" stroke-width="1.2"/>
<rect x="468.20" y="375.15" width="3.3" height="3.3" fill="none" stroke="#f36318" stroke-width="1.2"/>
<rect x="470.05" y="375.15" width="3.3" height="3.3" fill="none" stroke="#f36318" stroke-width="1.2"/>
<line x1="493.3" y1="330.6" x2="505.8" y2="330.6" stroke="#0d8a0d" stroke-width="1.5"/>
<path d="M499.10 308.75L500.85 310.50L499.10 312.25L497.35 310.50Z" fill="none" stroke="#0d8a0d" stroke-width="1.1"/>
<path d="M499.10 321.95L500.85 323.70L499.10 325.45L497.35 323.70Z" fill="none" stroke="#0d8a0d" stroke-width="1.1"/>
<path d="M496.50 327.15L498.25 328.90L496.50 330.65L494.75 328.90Z" fill="none" stroke="#0d8a0d" stroke-width="1.1"/>
<path d="M501.70 331.45L503.45 333.20L501.70 334.95L499.95 333.20Z" fill="none" stroke="#0d8a0d" stroke-width="1.1"/>
<path d="M496.50 348.65L498.25 350.40L496.50 352.15L494.75 350.40Z" fill="none" stroke="#0d8a0d" stroke-width="1.1"/>
<path d="M501.70 348.65L503.45 350.40L501.70 352.15L499.95 350.40Z" fill="none" stroke="#0d8a0d" stroke-width="1.1"/>
<line x1="511" y1="347.2" x2="524" y2="347.2" stroke="#f36318" stroke-width="1.5"/>
<rect x="519.05" y="338.25" width="3.3" height="3.3" fill="none" stroke="#f36318" stroke-width="1.2"/>
<rect x="511.55" y="342.95" width="3.3" height="3.3" fill="none" stroke="#f36318" stroke-width="1.2"/>
<rect x="514.05" y="343.65" width="3.3" height="3.3" fill="none" stroke="#f36318" stroke-width="1.2"/>
<rect x="519.05" y="347.95" width="3.3" height="3.3" fill="none" stroke="#f36318" stroke-width="1.2"/>
<rect x="514.05" y="375.15" width="3.3" height="3.3" fill="none" stroke="#f36318" stroke-width="1.2"/>
<rect x="519.05" y="375.15" width="3.3" height="3.3" fill="none" stroke="#f36318" stroke-width="1.2"/>
<line x1="543.3" y1="335.9" x2="555.7" y2="335.9" stroke="#0d8a0d" stroke-width="1.5"/>
<path d="M547.10 321.45L548.85 323.20L547.10 324.95L545.35 323.20Z" fill="none" stroke="#0d8a0d" stroke-width="1.1"/>
<path d="M552.30 317.95L554.05 319.70L552.30 321.45L550.55 319.70Z" fill="none" stroke="#0d8a0d" stroke-width="1.1"/>
<path d="M545.60 334.25L547.35 336.00L545.60 337.75L543.85 336.00Z" fill="none" stroke="#0d8a0d" stroke-width="1.1"/>
<path d="M549.40 335.45L551.15 337.20L549.40 338.95L547.65 337.20Z" fill="none" stroke="#0d8a0d" stroke-width="1.1"/>
<path d="M553.80 333.35L555.55 335.10L553.80 336.85L552.05 335.10Z" fill="none" stroke="#0d8a0d" stroke-width="1.1"/>
<path d="M549.40 346.75L551.15 348.50L549.40 350.25L547.65 348.50Z" fill="none" stroke="#0d8a0d" stroke-width="1.1"/>
<line x1="562.3" y1="294.4" x2="574.9" y2="294.4" stroke="#f36318" stroke-width="1.5"/>
<rect x="566.95" y="286.05" width="3.3" height="3.3" fill="none" stroke="#f36318" stroke-width="1.2"/>
<rect x="562.75" y="292.35" width="3.3" height="3.3" fill="none" stroke="#f36318" stroke-width="1.2"/>
<rect x="570.75" y="292.35" width="3.3" height="3.3" fill="none" stroke="#f36318" stroke-width="1.2"/>
<rect x="564.05" y="298.55" width="3.3" height="3.3" fill="none" stroke="#f36318" stroke-width="1.2"/>
<rect x="569.45" y="296.25" width="3.3" height="3.3" fill="none" stroke="#f36318" stroke-width="1.2"/>
<rect x="566.95" y="293.35" width="3.3" height="3.3" fill="none" stroke="#f36318" stroke-width="1.2"/>
<line x1="593.5" y1="344.3" x2="606" y2="344.3" stroke="#0d8a0d" stroke-width="1.5"/>
<path d="M597.40 334.25L599.15 336.00L597.40 337.75L595.65 336.00Z" fill="none" stroke="#0d8a0d" stroke-width="1.1"/>
<path d="M602.60 334.25L604.35 336.00L602.60 337.75L600.85 336.00Z" fill="none" stroke="#0d8a0d" stroke-width="1.1"/>
<path d="M600.30 339.65L602.05 341.40L600.30 343.15L598.55 341.40Z" fill="none" stroke="#0d8a0d" stroke-width="1.1"/>
<path d="M596.00 345.85L597.75 347.60L596.00 349.35L594.25 347.60Z" fill="none" stroke="#0d8a0d" stroke-width="1.1"/>
<path d="M600.30 347.35L602.05 349.10L600.30 350.85L598.55 349.10Z" fill="none" stroke="#0d8a0d" stroke-width="1.1"/>
<path d="M603.70 346.35L605.45 348.10L603.70 349.85L601.95 348.10Z" fill="none" stroke="#0d8a0d" stroke-width="1.1"/>
<line x1="612.7" y1="304.6" x2="625.2" y2="304.6" stroke="#f36318" stroke-width="1.5"/>
<rect x="612.05" y="296.55" width="3.3" height="3.3" fill="none" stroke="#f36318" stroke-width="1.2"/>
<rect x="619.75" y="296.05" width="3.3" height="3.3" fill="none" stroke="#f36318" stroke-width="1.2"/>
<rect x="614.55" y="300.95" width="3.3" height="3.3" fill="none" stroke="#f36318" stroke-width="1.2"/>
<rect x="622.05" y="305.25" width="3.3" height="3.3" fill="none" stroke="#f36318" stroke-width="1.2"/>
<rect x="619.35" y="307.15" width="3.3" height="3.3" fill="none" stroke="#f36318" stroke-width="1.2"/>
<rect x="614.55" y="310.95" width="3.3" height="3.3" fill="none" stroke="#f36318" stroke-width="1.2"/>
<line x1="644.2" y1="372.5" x2="656.1" y2="372.5" stroke="#0d8a0d" stroke-width="1.5"/>
<path d="M647.50 364.25L649.25 366.00L647.50 367.75L645.75 366.00Z" fill="none" stroke="#0d8a0d" stroke-width="1.1"/>
<path d="M652.80 365.55L654.55 367.30L652.80 369.05L651.05 367.30Z" fill="none" stroke="#0d8a0d" stroke-width="1.1"/>
<path d="M645.80 370.45L647.55 372.20L645.80 373.95L644.05 372.20Z" fill="none" stroke="#0d8a0d" stroke-width="1.1"/>
<path d="M654.40 370.75L656.15 372.50L654.40 374.25L652.65 372.50Z" fill="none" stroke="#0d8a0d" stroke-width="1.1"/>
<path d="M650.20 375.05L651.95 376.80L650.20 378.55L648.45 376.80Z" fill="none" stroke="#0d8a0d" stroke-width="1.1"/>
<line x1="663" y1="345.4" x2="674.9" y2="345.4" stroke="#f36318" stroke-width="1.5"/>
<rect x="667.25" y="339.15" width="3.3" height="3.3" fill="none" stroke="#f36318" stroke-width="1.2"/>
<rect x="663.35" y="343.75" width="3.3" height="3.3" fill="none" stroke="#f36318" stroke-width="1.2"/>
<rect x="671.25" y="343.75" width="3.3" height="3.3" fill="none" stroke="#f36318" stroke-width="1.2"/>
<rect x="667.25" y="345.55" width="3.3" height="3.3" fill="none" stroke="#f36318" stroke-width="1.2"/>
<rect x="665.05" y="362.25" width="3.3" height="3.3" fill="none" stroke="#f36318" stroke-width="1.2"/>
<rect x="670.15" y="361.35" width="3.3" height="3.3" fill="none" stroke="#f36318" stroke-width="1.2"/>
<text x="2.2" y="13.65" font-family='"Liberation Serif", serif' font-size="16.4" font-weight="bold" text-anchor="start" fill="#000" >A</text>
<text x="357.0" y="13.6" font-family='"Liberation Serif", serif' font-size="16.3" font-weight="bold" text-anchor="start" fill="#000" >B</text>
</svg>
</body></html>
